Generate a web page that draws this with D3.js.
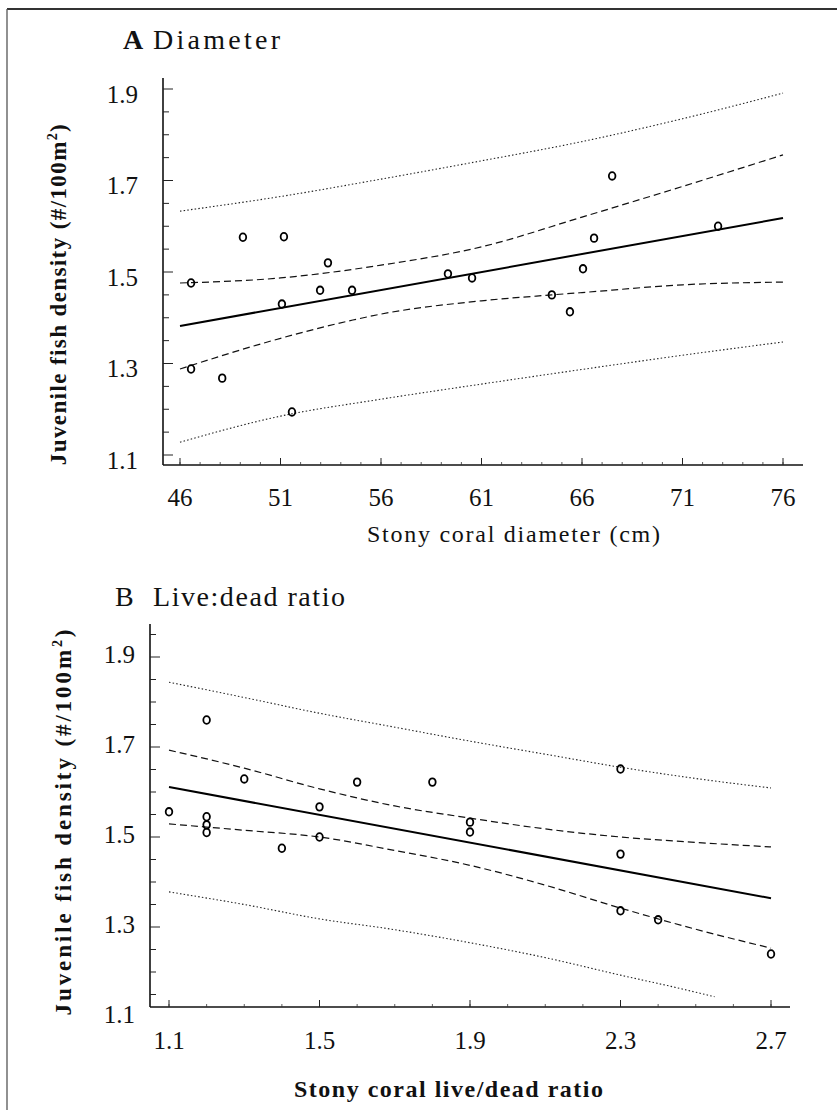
<!DOCTYPE html>
<html>
<head>
<meta charset="utf-8">
<script src="https://cdn.jsdelivr.net/npm/d3@7"></script>
<style>
  body { margin: 0; background: #fff; }
  svg text { font-family: "Liberation Serif", "Times New Roman", serif; fill: #111; }
</style>
</head>
<body>
<svg id="fig" width="837" height="1110"></svg>
<script>
// Panel A: fish density vs stony coral diameter
const diamPts = [
  [46.55, 1.476], [49.13, 1.576], [51.17, 1.577], [53.36, 1.52], [52.97, 1.46],
  [54.56, 1.46], [51.07, 1.43], [46.55, 1.288], [48.1, 1.268], [51.57, 1.194],
  [59.33, 1.496], [60.53, 1.487], [66.6, 1.574], [67.5, 1.71], [66.05, 1.507],
  [72.77, 1.60], [64.5, 1.45], [65.4, 1.413]
];
const diamFit = [[46, 1.382], [76, 1.618]];
const diamCIUp = [[46, 1.476], [51, 1.487], [56, 1.515], [61, 1.555], [66, 1.620], [71, 1.687], [76, 1.756]];
const diamCILo = [[46, 1.288], [51, 1.355], [54.6, 1.395], [56, 1.408], [61, 1.437], [64.5, 1.45], [66, 1.455], [71, 1.472], [76, 1.478]];
const diamPIUp = [[46, 1.633], [51, 1.665], [56, 1.703], [61, 1.743], [66, 1.785], [71, 1.835], [76, 1.891]];
const diamPILo = [[46, 1.128], [51, 1.185], [56, 1.222], [61, 1.255], [66, 1.287], [71, 1.318], [76, 1.347]];
const diamTicks = [46, 51, 56, 61, 66, 71, 76];

// Panel B: fish density vs live:dead ratio
const ratioPts = [
  [1.1, 1.556], [1.2, 1.76], [1.2, 1.545], [1.2, 1.527], [1.2, 1.51],
  [1.3, 1.629], [1.4, 1.475], [1.5, 1.567], [1.5, 1.50], [1.6, 1.622],
  [1.8, 1.622], [1.9, 1.533], [1.9, 1.511], [2.3, 1.651], [2.3, 1.462],
  [2.3, 1.336], [2.4, 1.316], [2.7, 1.24]
];
const ratioFit = [[1.1, 1.611], [2.7, 1.364]];
const ratioCIUp = [[1.1, 1.693], [1.3, 1.653], [1.5, 1.607], [1.7, 1.569], [1.9, 1.542], [2.1, 1.518], [2.3, 1.50], [2.5, 1.488], [2.7, 1.478]];
const ratioCILo = [[1.1, 1.529], [1.3, 1.515], [1.5, 1.50], [1.7, 1.47], [1.9, 1.437], [2.1, 1.393], [2.3, 1.342], [2.5, 1.295], [2.7, 1.253]];
const ratioPIUp = [[1.1, 1.844], [1.3, 1.81], [1.5, 1.775], [1.7, 1.744], [1.9, 1.713], [2.1, 1.684], [2.3, 1.655], [2.5, 1.63], [2.7, 1.609]];
const ratioPILo = [[1.1, 1.378], [1.3, 1.35], [1.5, 1.318], [1.7, 1.294], [1.9, 1.265], [2.1, 1.232], [2.3, 1.193], [2.45, 1.165], [2.55, 1.145]];
const ratioTicks = [1.1, 1.5, 1.9, 2.3, 2.7];

const densityTicks = [1.1, 1.3, 1.5, 1.7, 1.9];

const svg = d3.select('#fig');

// frame (top and left edges only, like the scanned page)
svg.append('line').attr('x1', 7).attr('x2', 837).attr('y1', 9).attr('y2', 9)
  .attr('stroke', '#333').attr('stroke-width', 2);
svg.append('line').attr('x1', 7).attr('x2', 7).attr('y1', 9).attr('y2', 1110)
  .attr('stroke', '#555').attr('stroke-width', 1.3);

function drawPanel(cfg) {
  const x = d3.scaleLinear().domain(cfg.xDomain).range(cfg.xRange);
  const y = d3.scaleLinear().domain([1.1, 1.9]).range(cfg.yRange);
  const g = svg.append('g');
  const yBottom = cfg.axisBottom;

  // axis lines
  g.append('line').attr('x1', cfg.axisLeft).attr('x2', cfg.axisLeft)
    .attr('y1', cfg.axisTop).attr('y2', yBottom)
    .attr('stroke', '#111').attr('stroke-width', 1.6);
  g.append('line').attr('x1', cfg.axisLeft).attr('x2', cfg.axisRight)
    .attr('y1', yBottom).attr('y2', yBottom)
    .attr('stroke', '#111').attr('stroke-width', 1.6);

  // y ticks (inside), minor every 0.05
  const yMinor = d3.range(1.1, 1.96, 0.05).map(v => +v.toFixed(2))
    .filter(v => y(v) < yBottom - 2 && y(v) > cfg.axisTop);
  g.selectAll('.ytk').data(yMinor).join('line')
    .attr('x1', cfg.axisLeft)
    .attr('x2', d => cfg.axisLeft + (densityTicks.includes(d) ? 10 : 6))
    .attr('y1', d => y(d)).attr('y2', d => y(d))
    .attr('stroke', '#222').attr('stroke-width', 1);

  // x ticks (inside)
  g.selectAll('.xmin').data(cfg.xMinor).join('line')
    .attr('x1', d => x(d)).attr('x2', d => x(d))
    .attr('y1', yBottom).attr('y2', yBottom - 3)
    .attr('stroke', '#333').attr('stroke-width', 0.8);
  g.selectAll('.xmaj').data(cfg.xTicks).join('line')
    .attr('x1', d => x(d)).attr('x2', d => x(d))
    .attr('y1', yBottom).attr('y2', yBottom - 7)
    .attr('stroke', '#222').attr('stroke-width', 1);

  // tick labels
  g.selectAll('.ylab').data(densityTicks).join('text')
    .attr('x', cfg.yLabelX).attr('y', d => y(d) + cfg.yLabelDy)
    .attr('text-anchor', 'end').attr('dominant-baseline', 'middle')
    .attr('font-size', 25).attr('fill', '#222')
    .text(d => d.toFixed(1));
  g.selectAll('.xlab').data(cfg.xTicks).join('text')
    .attr('x', d => x(d)).attr('y', cfg.xLabelY)
    .attr('text-anchor', 'middle')
    .attr('font-size', 25).attr('fill', '#222')
    .text(cfg.fmt);

  // bands and fit
  const line = d3.line().x(d => x(d[0])).y(d => y(d[1])).curve(d3.curveMonotoneX);
  [cfg.piUp, cfg.piLo].forEach(s => {
    g.append('path').attr('d', line(s)).attr('fill', 'none')
      .attr('stroke', '#222').attr('stroke-width', 1.1).attr('stroke-dasharray', '1.5,2.2');
  });
  [cfg.ciUp, cfg.ciLo].forEach(s => {
    g.append('path').attr('d', line(s)).attr('fill', 'none')
      .attr('stroke', '#111').attr('stroke-width', 1.2).attr('stroke-dasharray', '7,4');
  });
  g.append('path').attr('d', line(cfg.fit)).attr('fill', 'none')
    .attr('stroke', '#000').attr('stroke-width', 2);

  // observations
  g.selectAll('.pt').data(cfg.pts).join('ellipse')
    .attr('cx', d => x(d[0])).attr('cy', d => y(d[1]))
    .attr('rx', 3.3).attr('ry', 3.8)
    .attr('fill', 'none').attr('stroke', '#000').attr('stroke-width', 1.8);

  // panel title
  g.append('text').attr('x', cfg.titleX).attr('y', cfg.titleY).attr('font-size', 28)
    .attr('font-weight', cfg.letterBold ? 'bold' : 'normal')
    .attr('fill', cfg.letterBold ? '#111' : '#555')
    .text(cfg.letter);
  g.append('text').attr('x', cfg.titleTextX).attr('y', cfg.titleY).attr('font-size', 28)
    .attr('textLength', cfg.titleLen).attr('lengthAdjust', 'spacing')
    .text(cfg.title);

  const yt = g.append('text')
    .attr('transform', `translate(${cfg.yTitleX},${cfg.yTitleMid}) rotate(-90)`)
    .attr('text-anchor', 'middle').attr('font-weight', 'bold').attr('font-size', 23)
    .attr('letter-spacing', cfg.yTitleSpacing);
  yt.append('tspan').text('Juvenile fish density (#/100m');
  yt.append('tspan').attr('font-size', 14).attr('dy', -9).text('2');
  yt.append('tspan').attr('dy', 9).text(')');

  g.append('text').attr('x', cfg.xTitleX).attr('y', cfg.xTitleY)
    .attr('font-size', 24).attr('font-weight', cfg.xTitleBold ? 'bold' : 'normal')
    .attr('fill', cfg.xTitleBold ? '#111' : '#333')
    .attr('textLength', cfg.xTitleLen).attr('lengthAdjust', 'spacing')
    .text(cfg.xTitle);
}

drawPanel({
  xDomain: [46, 76], xRange: [180, 783], yRange: [455, 89],
  axisLeft: 163, axisRight: 803, axisTop: 78, axisBottom: 465,
  xTicks: diamTicks, xMinor: d3.range(46, 77, 1), fmt: d => d,
  yLabelX: 138, yLabelDy: 8, xLabelY: 506,
  pts: diamPts, fit: diamFit, ciUp: diamCIUp, ciLo: diamCILo, piUp: diamPIUp, piLo: diamPILo,
  letter: 'A', letterBold: true, title: 'Diameter', titleX: 123, titleTextX: 153, titleLen: 127, titleY: 49,
  yTitleX: 66, yTitleMid: 294, yTitleSpacing: 1.4,
  xTitle: 'Stony coral diameter (cm)', xTitleX: 367, xTitleY: 542, xTitleLen: 293, xTitleBold: false
});

drawPanel({
  xDomain: [1.1, 2.7], xRange: [169, 771], yRange: [1017, 657],
  axisLeft: 150, axisRight: 790, axisTop: 624, axisBottom: 1007,
  xTicks: ratioTicks, xMinor: d3.range(1.1, 2.75, 0.1).map(v => +v.toFixed(1)), fmt: d => d.toFixed(1),
  yLabelX: 135, yLabelDy: 0, xLabelY: 1049,
  pts: ratioPts, fit: ratioFit, ciUp: ratioCIUp, ciLo: ratioCILo, piUp: ratioPIUp, piLo: ratioPILo,
  letter: 'B', letterBold: false, title: 'Live:dead ratio', titleX: 115, titleTextX: 153, titleLen: 192, titleY: 606,
  yTitleX: 71, yTitleMid: 821, yTitleSpacing: 2.9,
  xTitle: 'Stony coral live/dead ratio', xTitleX: 294, xTitleY: 1097, xTitleLen: 309, xTitleBold: true
});
</script>
</body>
</html>
